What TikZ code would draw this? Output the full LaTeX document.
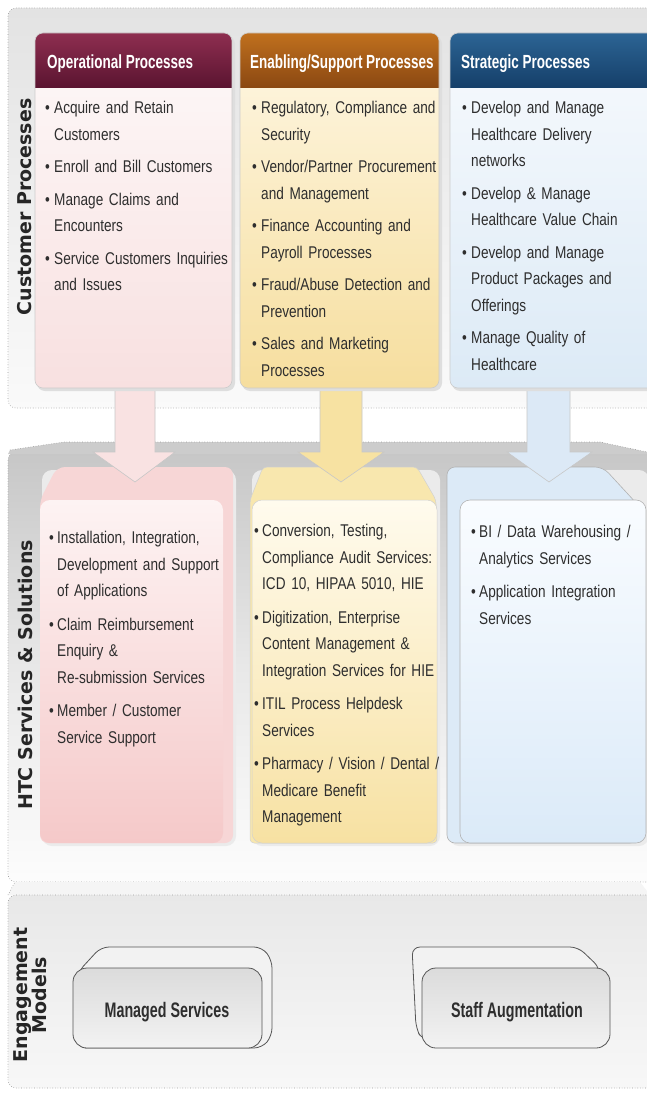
\documentclass[tikz,border=0pt]{standalone}
\usepackage{fontspec}
\newfontfamily\bodyfont{Liberation Sans}[FakeStretch=0.8]
\newfontfamily\hdrfont{Liberation Sans}[FakeStretch=0.71]
\newfontfamily\engfont{Liberation Sans}[FakeStretch=0.68]
\newfontfamily\sidefont{DejaVu Sans}
\newcommand\bodysp{\spaceskip=3pt plus 0.2pt minus 0.2pt\relax}
\newcommand\hdrsp{\spaceskip=3.6pt\relax}
\newcommand\engsp{\spaceskip=4pt\relax}
\definecolor{txt}{HTML}{2E2E2E}
\definecolor{pbord}{HTML}{9A9A9A}
\definecolor{hOpTop}{HTML}{8E2E50}
\definecolor{hOpBot}{HTML}{5A1430}
\definecolor{hEnTop}{HTML}{C0701E}
\definecolor{hEnBot}{HTML}{8A4812}
\definecolor{hStTop}{HTML}{2C6494}
\definecolor{hStBot}{HTML}{153F69}
\definecolor{bOpTop}{HTML}{FDF9F9}
\definecolor{bOpBot}{HTML}{F8E0E0}
\definecolor{bEnTop}{HTML}{FEF7E4}
\definecolor{bEnBot}{HTML}{F6DE9E}
\definecolor{bStTop}{HTML}{F7FAFD}
\definecolor{bStBot}{HTML}{DCEAF6}
\definecolor{arP}{HTML}{F9E2E2}
\definecolor{arY}{HTML}{F7E2A2}
\definecolor{arB}{HTML}{DCE9F6}
\definecolor{pkBack}{HTML}{F7D6D6}
\definecolor{pkTop}{HTML}{FDF3F3}
\definecolor{pkBot}{HTML}{F5C9C9}
\definecolor{ywBack}{HTML}{F8E7AE}
\definecolor{ywTop}{HTML}{FFFBEE}
\definecolor{ywBot}{HTML}{F7E1A2}
\definecolor{blBack}{HTML}{DCEAF7}
\definecolor{blTop}{HTML}{F9FCFF}
\definecolor{blBot}{HTML}{DBEAF8}
\definecolor{engBord}{HTML}{555555}
\newcommand\bitem[1]{\hangindent=9pt\hangafter=1\noindent\makebox[9pt][l]{\textbullet}#1\par\vspace{6pt}}
\newcommand\mitem[1]{\hangindent=8pt\hangafter=1\noindent\makebox[8pt][l]{\textbullet}#1\par\vspace{7pt}}
\tikzset{
  panel/.style={draw=pbord, dotted, line width=0.6pt},
  itemlist/.style={anchor=north west, inner sep=0pt, text width=#1, align=left,
    font=\bodyfont\fontsize{17}{26.5}\selectfont\bodysp, text=txt},
  hdrtext/.style={anchor=base west, inner sep=0pt, text=white,
    font=\hdrfont\bfseries\fontsize{19}{22}\selectfont\hdrsp},
  sidelabel/.style={rotate=90, inner sep=0pt, align=center, text=black!85,
    font=\sidefont\bfseries\fontsize{19}{19}\selectfont},
  engtext/.style={anchor=base, inner sep=0pt, text=txt,
    font=\engfont\bfseries\fontsize{21}{24}\selectfont\engsp},
  blockarrow/.style={draw=black!22, line width=0.6pt},
  engback/.style={draw=engBord, line width=0.8pt, fill=black!5},
  engfront/.style={draw=engBord, line width=0.8pt, top color=black!14, bottom color=black!5, rounded corners=14pt},
}
\begin{document}
\begin{tikzpicture}[x=1pt,y=-1pt]
\useasboundingbox (0,0) rectangle (647,1094);
\clip (0,0) rectangle (647,1094);
\fill[white] (0,0) rectangle (647,1094);

% ---------------- top panel ----------------
\path[panel, top color=black!11, bottom color=black!2, rounded corners=8pt] (8,8) rectangle (672,408);

% ---------------- middle panel ----------------
\path[top color=black!22, bottom color=black!1, middle color=black!9, rounded corners=8pt] (8,452) rectangle (672,882);
\draw[panel, rounded corners=8pt] (672,882) -- (8,882) -- (8,452) -- (672,452);
\fill[black!20] (8,454) -- (10,450) -- (64,442) -- (600,442) -- (647,452) -- (647,454) -- cycle;
\draw[panel] (10,450) -- (64,442) -- (600,442) -- (647,452);

% ---------------- bottom panel ----------------
\fill[black!4] (8,895) -- (15,882) -- (640,882) -- (650,895) -- cycle;
\draw[panel] (8,895) -- (15,882);
\path[top color=black!9, bottom color=black!3, rounded corners=8pt] (8,895) rectangle (672,1088);
\draw[panel, rounded corners=8pt] (672,895) -- (8,895) -- (8,1088) -- (672,1088);

% ---------------- middle cards ----------------
% pink
\fill[black!8, rounded corners=10pt] (42,470) rectangle (236,846);
\fill[pkBack, rounded corners=8pt] (40,843) -- (40,500) -- (57,467) -- (233,467) -- (233,843) -- cycle;
\shade[top color=pkTop, bottom color=pkBot, rounded corners=10pt] (40,500) rectangle (223,843);
% yellow
\fill[black!8, rounded corners=10pt] (252,470) rectangle (440,846);
\path[fill=ywBack, draw=black!18, line width=0.5pt, rounded corners=4pt] (250,843) -- (250,500) -- (263,467) -- (417,467) -- (436,500) -- (437,843) -- cycle;
\shade[top color=ywTop, bottom color=ywBot, rounded corners=10pt] (252,500) rectangle (437,843);
\draw[black!18, line width=0.5pt, rounded corners=10pt] (252,500) rectangle (437,843);
% blue
\fill[black!8, rounded corners=10pt] (449,470) rectangle (649,846);
\path[fill=blBack, draw=black!30, line width=0.6pt, rounded corners=8pt] (447,843) -- (447,467) -- (603,467) -- (638,505) -- (638,843) -- cycle;
\shade[top color=blTop, bottom color=blBot, rounded corners=10pt] (460,500) rectangle (646,843);
\draw[black!30, line width=0.6pt, rounded corners=10pt] (460,500) rectangle (646,843);

% ---------------- block arrows ----------------
\path[blockarrow, fill=arP] (115,386) -- (155,386) -- (155,452) -- (175,452) -- (135,482) -- (93,452) -- (115,452) -- cycle;
\path[blockarrow, fill=arY] (320,386) -- (362,386) -- (362,452) -- (384,452) -- (341,482) -- (298,452) -- (320,452) -- cycle;
\path[blockarrow, fill=arB] (527,386) -- (570,386) -- (570,452) -- (592,452) -- (549,482) -- (507,452) -- (527,452) -- cycle;

% ---------------- top columns ----------------
% shadows
\fill[black!13, rounded corners=8pt] (37,36) rectangle (235,391);
\fill[black!13, rounded corners=8pt] (242,36) rectangle (442,391);
\fill[black!13, rounded corners=8pt] (452,36) rectangle (660,391);
% operational
\shade[top color=bOpTop, bottom color=bOpBot, rounded corners=8pt] (35,33) rectangle (232,388);
\begin{scope}
  \clip[rounded corners=8pt] (35,33) rectangle (232,388);
  \shade[top color=hOpTop, bottom color=hOpBot] (35,33) rectangle (232,88);
\end{scope}
\draw[black!20, line width=0.6pt, rounded corners=8pt] (35,33) rectangle (232,388);
% enabling
\shade[top color=bEnTop, bottom color=bEnBot, rounded corners=8pt] (240,33) rectangle (439,388);
\begin{scope}
  \clip[rounded corners=8pt] (240,33) rectangle (439,388);
  \shade[top color=hEnTop, bottom color=hEnBot] (240,33) rectangle (439,88);
\end{scope}
\draw[black!20, line width=0.6pt, rounded corners=8pt] (240,33) rectangle (439,388);
% strategic
\shade[top color=bStTop, bottom color=bStBot, rounded corners=8pt] (450,33) rectangle (658,388);
\begin{scope}
  \clip[rounded corners=8pt] (450,33) rectangle (658,388);
  \shade[top color=hStTop, bottom color=hStBot] (450,33) rectangle (658,88);
\end{scope}
\draw[black!20, line width=0.6pt, rounded corners=8pt] (450,33) rectangle (658,388);

% headers
\node[hdrtext] (hop) at (47,69) {Operational Processes};
\node[hdrtext] (hen) at (250,69) {Enabling/Support Processes};
\node[hdrtext] (hst) at (461,69) {Strategic Processes};

% top lists
\node[itemlist=190] (lop) at (45,101) {%
\bitem{Acquire and Retain\newline Customers}
\bitem{Enroll and Bill Customers}
\bitem{Manage Claims and\newline Encounters}
\bitem{Service Customers Inquiries\newline and Issues}};
\node[itemlist=192] (len) at (252,101) {%
\bitem{Regulatory, Compliance and\newline Security}
\bitem{Vendor/Partner Procurement\newline and Management}
\bitem{Finance Accounting and\newline Payroll Processes}
\bitem{Fraud/Abuse Detection and\newline Prevention}
\bitem{Sales and Marketing\newline Processes}};
\node[itemlist=180] (lst) at (462,101) {%
\bitem{Develop and Manage\newline Healthcare Delivery\newline networks}
\bitem{Develop \& Manage\newline Healthcare Value Chain}
\bitem{Develop and Manage\newline Product Packages and\newline Offerings}
\bitem{Manage Quality of\newline Healthcare}};

% middle lists
\node[itemlist=185] (mop) at (49,531) {%
\mitem{Installation, Integration,\newline Development and Support\newline of Applications}
\mitem{Claim Reimbursement\newline Enquiry \&\newline Re-submission Services}
\mitem{Member / Customer\newline Service Support}};
\node[itemlist=190] (men) at (254,524) {%
\mitem{Conversion, Testing,\newline Compliance Audit Services:\newline ICD 10, HIPAA 5010, HIE}
\mitem{Digitization, Enterprise\newline Content Management \&\newline Integration Services for HIE}
\mitem{ITIL Process Helpdesk\newline Services}
\mitem{Pharmacy / Vision / Dental /\newline Medicare Benefit\newline Management}};
\node[itemlist=175] (mst) at (471,525) {%
\mitem{BI / Data Warehousing /\newline Analytics Services}
\mitem{Application Integration\newline Services}};

% ---------------- engagement boxes ----------------
\path[engback, rounded corners=8pt] (78,972) -- (101,947) -- (262,947) -- (272,960) -- (272,1036) -- (262,1048) -- (78,1048) -- cycle;
\path[engfront] (73,968) rectangle (262,1048);
\node[engtext] (ms) at (167,1017.5) {Managed Services};

\path[engback, rounded corners=8pt] (416,1028) -- (412,947) -- (578,947) -- (600,968) -- (600,1040) -- (422,1040) -- cycle;
\path[engfront] (422,968) rectangle (610,1048);
\node[engtext] (sa) at (517,1017.5) {Staff Augmentation};

% ---------------- side labels ----------------
\node[sidelabel] (scp) at (25,207) {Customer Processes};
\node[sidelabel] (shtc) at (25,675) {HTC Services \& Solutions};
\node[sidelabel] (seng) at (30,995) {Engagement\\Models};
\end{tikzpicture}
\end{document}
